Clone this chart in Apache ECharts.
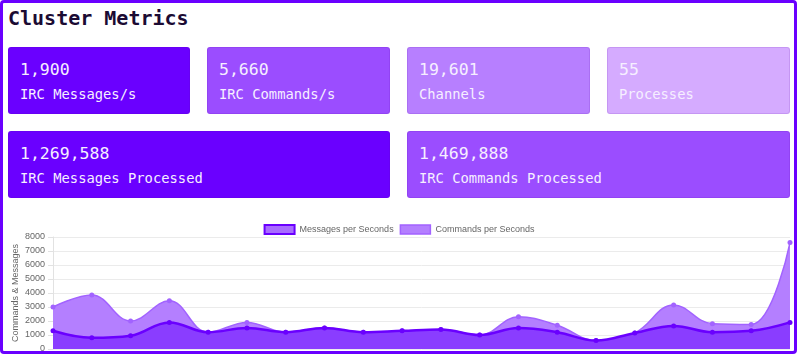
<!DOCTYPE html>
<html>
<head>
<meta charset="utf-8">
<script src="https://cdn.jsdelivr.net/npm/echarts@6/dist/echarts.min.js"></script>
<style>
  html, body { margin: 0; padding: 0; background: #fff; width: 800px; height: 356px; overflow: hidden; }
  #frame { position: absolute; left: 0; top: 0; width: 797px; height: 354px; box-sizing: border-box;
           border: 3px solid #6a00ff; border-radius: 4px; z-index: 5; pointer-events: none; }
  #title { position: absolute; left: 8px; top: 4px; font-family: "DejaVu Sans Mono", monospace;
           font-weight: bold; font-size: 20px; color: #1b0b33; line-height: 28px; }
  .card { position: absolute; box-sizing: border-box; border-radius: 3px; color: #f6efff;
          font-family: "DejaVu Sans Mono", monospace; border: 1px solid rgba(80,0,160,0.12); }
  .card .num { position: absolute; left: 11px; top: 11px; font-size: 16.5px; line-height: 22px; }
  .card .lab { position: absolute; left: 11px; top: 36px; font-size: 13.8px; line-height: 20px; }
  #chart { position: absolute; left: 3px; top: 205px; width: 792px; height: 146px; }
</style>
</head>
<body>
<div id="frame"></div>
<div id="title">Cluster Metrics</div>
<div id="cards"></div>
<div id="chart"></div>
<script>
// ---- data ----
const cardValues = ['1,900', '5,660', '19,601', '55', '1,269,588', '1,469,888'];
const cardLabels = ['IRC Messages/s', 'IRC Commands/s', 'Channels', 'Processes',
                    'IRC Messages Processed', 'IRC Commands Processed'];
const categories = ['1','2','3','4','5','6','7','8','9','10','11','12','13','14','15','16','17','18','19','20'];
const messagesPerSecond = [1300, 800, 950, 1900, 1200, 1500, 1200, 1500, 1200, 1300,
                           1400, 1000, 1500, 1200, 600, 1150, 1650, 1200, 1300, 1900];
const commandsPerSecond = [3000, 3850, 2000, 3450, 1200, 1900, 1200, 1500, 1200, 1300,
                           1400, 1000, 2300, 1700, 600, 1150, 3150, 1800, 1750, 7600];
const yTicks = [0, 1000, 2000, 3000, 4000, 5000, 6000, 7000, 8000];

// ---- cards (layout) ----
const cardBoxes = [
  {l: 8, t: 47, w: 182, h: 67, bg: '#6a00ff'},
  {l: 207, t: 47, w: 183, h: 67, bg: '#9b4dff'},
  {l: 407, t: 47, w: 183, h: 67, bg: '#b77fff'},
  {l: 607, t: 47, w: 183, h: 67, bg: '#d5abff'},
  {l: 8, t: 131, w: 382, h: 67, bg: '#6a00ff'},
  {l: 407, t: 131, w: 383, h: 67, bg: '#9b4dff'}
];
const cardsEl = document.getElementById('cards');
cardBoxes.forEach((b, i) => {
  const d = document.createElement('div');
  d.className = 'card';
  d.style.left = b.l + 'px'; d.style.top = b.t + 'px';
  d.style.width = b.w + 'px'; d.style.height = b.h + 'px';
  d.style.background = b.bg;
  d.innerHTML = '<div class="num">' + cardValues[i] + '</div><div class="lab">' + cardLabels[i] + '</div>';
  cardsEl.appendChild(d);
});

// ---- chart ----
const chart = echarts.init(document.getElementById('chart'), null, {renderer: 'canvas'});
const font = '"Liberation Sans", Arial, sans-serif';
chart.setOption({
  animation: false,
  legend: {
    top: 14, left: 'center',
    icon: 'rect', itemWidth: 30, itemHeight: 9, itemGap: 6,
    textStyle: { color: '#666', fontSize: 9, fontFamily: font },
    data: [
      { name: 'Messages per Seconds', itemStyle: { color: '#a86cff', borderColor: '#6a00ff', borderWidth: 2 } },
      { name: 'Commands per Seconds', itemStyle: { color: '#b47fff', borderColor: '#a263ff', borderWidth: 1.5 } }
    ]
  },
  grid: { left: 50, right: 5, top: 32, bottom: 2, containLabel: false, outerBoundsMode: 'none' },
  xAxis: {
    type: 'category', boundaryGap: false, data: categories,
    axisLabel: { show: false }, axisTick: { show: false },
    axisLine: { show: false }, splitLine: { show: false }
  },
  yAxis: {
    type: 'value', min: yTicks[0], max: yTicks[yTicks.length - 1], interval: 1000,
    name: 'Commands & Messages', nameLocation: 'middle', nameGap: 33, nameMoveOverlap: false,
    nameTextStyle: { color: '#666', fontSize: 9, fontFamily: font },
    axisLabel: { color: '#666', fontSize: 9, fontFamily: font, margin: 8, formatter: v => String(v) },
    axisLine: { show: true, lineStyle: { color: '#e2e2e2', width: 1 } },
    axisTick: { show: true, length: 5, lineStyle: { color: '#e2e2e2' } },
    splitLine: { show: true, lineStyle: { color: '#ebebeb', width: 1 } }
  },
  series: [
    {
      name: 'Commands per Seconds', type: 'line', data: commandsPerSecond,
      smooth: 0.4, symbol: 'circle', symbolSize: 5, showSymbol: true, z: 2,
      lineStyle: { color: '#a263ff', width: 1.5 },
      itemStyle: { color: '#a263ff' },
      areaStyle: { color: '#b47fff', opacity: 1 }
    },
    {
      name: 'Messages per Seconds', type: 'line', data: messagesPerSecond,
      smooth: 0.4, symbol: 'circle', symbolSize: 5, showSymbol: true, z: 3,
      lineStyle: { color: '#6a00ff', width: 2.5 },
      itemStyle: { color: '#6a00ff' },
      areaStyle: { color: '#8a3dff', opacity: 1 }
    }
  ]
});
</script>
</body>
</html>
